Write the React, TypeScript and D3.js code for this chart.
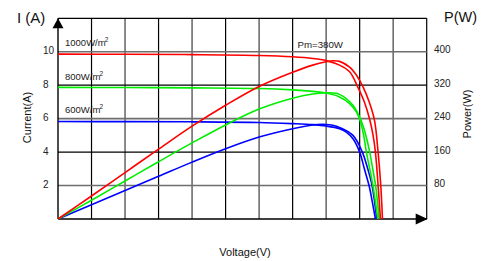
import React, { useEffect, useRef } from "react";
import * as d3 from "d3";

// Voltage (V) vs Current (A) and Power (W)
const redIV: [number, number][] = [[0,9.86],[10,9.85],[20,9.83],[30,9.78],[35,9.7],[38,9.6],[40,9.47],[42,9.2],[43.5,8.8],[44.65,7.95],[45.7,7.0],[46.5,5.95],[47.0,5.0],[47.35,4.0],[47.75,2.0],[48.1,0]];
const redPV: [number, number][] = [[0,0],[5,55],[10,111],[15,167],[20,222],[25,272],[30,317],[35,351],[38,368],[40,376],[41,378.5],[42,377],[43.5,363],[44.6,342],[45.5,316],[46.4,281],[47.2,237],[47.75,160],[48.15,80],[48.4,0]];
const greenIV: [number, number][] = [[0,7.87],[10,7.86],[20,7.84],[30,7.8],[35,7.72],[38,7.63],[40,7.53],[42,7.3],[43.5,6.9],[44.5,6.4],[45.1,5.85],[45.6,5.0],[46.0,4.0],[46.6,2.8],[47.1,1.7],[47.7,0]];
const greenPV: [number, number][] = [[0,0],[5,45],[10,91],[15,137],[20,182],[25,225],[30,263],[35,289],[38,299],[40,302],[41,301.5],[42,298],[44,272],[45.3,232],[46.05,192],[46.5,160],[47.0,115],[47.4,78],[47.9,0]];
const blueIV: [number, number][] = [[0,5.83],[10,5.82],[20,5.81],[30,5.77],[35,5.7],[38,5.64],[40,5.56],[42,5.4],[43,5.2],[44,4.8],[45,4.0],[45.7,3.0],[46.4,2.0],[46.9,1.0],[47.35,0]];
const bluePV: [number, number][] = [[0,0],[5,34],[10,68],[15,102],[20,136],[25,168],[30,196],[35,216],[38,225],[40,226],[41,224],[42,219],[44,200],[45.4,160],[46.2,120],[46.85,80],[47.55,0]];

const currentTicks = [2, 4, 6, 8, 10];
const powerTicks = [80, 160, 240, 320, 400];
const voltageGrid = [5, 10, 15, 20, 25, 30, 35, 40, 45, 50, 55];
const legendLabels = ["1000W/m", "800W/m", "600W/m"];
const legendLevels = [10, 8, 6];
const pmLabel = "Pm=380W";

const W = 487, H = 261;
const M = { left: 58, right: 426.7, top: 18.3, bottom: 219 };
const FONT = "Liberation Sans, Arial, sans-serif";

export default function App() {
  const ref = useRef<SVGSVGElement>(null);
  useEffect(() => {
    const svg = d3.select(ref.current);
    svg.selectAll("*").remove();
    const x = d3.scaleLinear().domain([0, 55]).range([M.left, M.right]);
    const yI = d3.scaleLinear().domain([0, 12]).range([M.bottom, M.top]);
    const yP = d3.scaleLinear().domain([0, 480]).range([M.bottom, M.top]);

    const g = svg.append("g");
    voltageGrid.forEach((v, i) => {
      const odd = (i + 1) % 2 === 1;
      g.append("line").attr("x1", x(v)).attr("x2", x(v)).attr("y1", M.top).attr("y2", M.bottom)
        .attr("stroke", odd ? "#000" : "#6e6e6e").attr("stroke-width", odd ? 1.2 : 1.6);
    });
    [...currentTicks, 12].forEach((c) => {
      const black = (c / 2) % 2 === 0;
      g.append("line").attr("x1", M.left).attr("x2", M.right).attr("y1", yI(c)).attr("y2", yI(c))
        .attr("stroke", black ? "#000" : "#6e6e6e").attr("stroke-width", black ? 1.2 : 1.6);
    });
    g.append("line").attr("x1", M.left).attr("x2", M.left).attr("y1", M.top).attr("y2", M.bottom).attr("stroke", "#000").attr("stroke-width", 1.4);
    g.append("line").attr("x1", M.left).attr("x2", M.right).attr("y1", M.bottom).attr("y2", M.bottom).attr("stroke", "#000").attr("stroke-width", 1.4);
    g.append("path").attr("d", `M${M.left},${M.top} L${M.left - 5.5},${M.top + 10} L${M.left + 5.5},${M.top + 10} Z`).attr("fill", "#000");
    g.append("path").attr("d", `M${M.right + 1},${M.bottom} L${M.right - 11},${M.bottom - 5.5} L${M.right - 11},${M.bottom + 5.5} Z`).attr("fill", "#000");

    currentTicks.forEach((c) => {
      g.append("text").attr("x", 43).attr("y", yI(c) - 1).attr("dy", "0.35em").attr("font-size", 10).attr("font-family", FONT).attr("fill", "#222").text(c);
    });
    powerTicks.forEach((p) => {
      g.append("text").attr("x", 434).attr("y", yP(p) - 2).attr("dy", "0.35em").attr("font-size", 10).attr("font-family", FONT).attr("fill", "#222").text(p);
    });

    const curve = d3.curveCatmullRom.alpha(0.5);
    const lineIV = d3.line<[number, number]>().x((d) => x(d[0])).y((d) => yI(d[1])).curve(curve);
    const linePV = d3.line<[number, number]>().x((d) => x(d[0])).y((d) => yP(d[1])).curve(curve);
    const series = [
      { iv: blueIV, pv: bluePV, color: "#0000ff" },
      { iv: greenIV, pv: greenPV, color: "#00ee00" },
      { iv: redIV, pv: redPV, color: "#ff0000" },
    ];
    series.forEach((s) => {
      g.append("path").attr("d", linePV(s.pv)!).attr("fill", "none").attr("stroke", s.color).attr("stroke-width", 1.6);
      g.append("path").attr("d", lineIV(s.iv)!).attr("fill", "none").attr("stroke", s.color).attr("stroke-width", 1.6);
    });

    legendLabels.forEach((l, i) => {
      const t = g.append("text").attr("x", 65).attr("y", yI(legendLevels[i]) - 5.5).attr("font-size", 9.5).attr("font-family", FONT).attr("fill", "#222");
      t.append("tspan").text(l);
      t.append("tspan").attr("dx", -1).attr("dy", -4).attr("font-size", 6.5).text("2");
    });
    g.append("text").attr("x", 297.5).attr("y", 47.5).attr("font-size", 9.7).attr("font-family", FONT).attr("fill", "#222").text(pmLabel);

    g.append("text").attr("x", 17).attr("y", 22.5).attr("font-size", 15).attr("font-family", FONT).attr("fill", "#111").text("I (A)");
    g.append("text").attr("x", 444).attr("y", 22).attr("font-size", 14.5).attr("font-family", FONT).attr("fill", "#111").text("P(W)");
    g.append("text").attr("transform", `translate(31,117.5) rotate(-90)`).attr("text-anchor", "middle").attr("font-size", 11).attr("font-family", FONT).attr("fill", "#111").text("Current(A)");
    g.append("text").attr("transform", `translate(471,114) rotate(-90)`).attr("text-anchor", "middle").attr("font-size", 11).attr("font-family", FONT).attr("fill", "#111").text("Power(W)");
    g.append("text").attr("x", 245).attr("y", 256).attr("text-anchor", "middle").attr("font-size", 11).attr("font-family", FONT).attr("fill", "#111").text("Voltage(V)");
  }, []);
  return <svg ref={ref} width={W} height={H} style={{ position: "absolute", left: 0, top: 0, background: "#fff" }} />;
}
